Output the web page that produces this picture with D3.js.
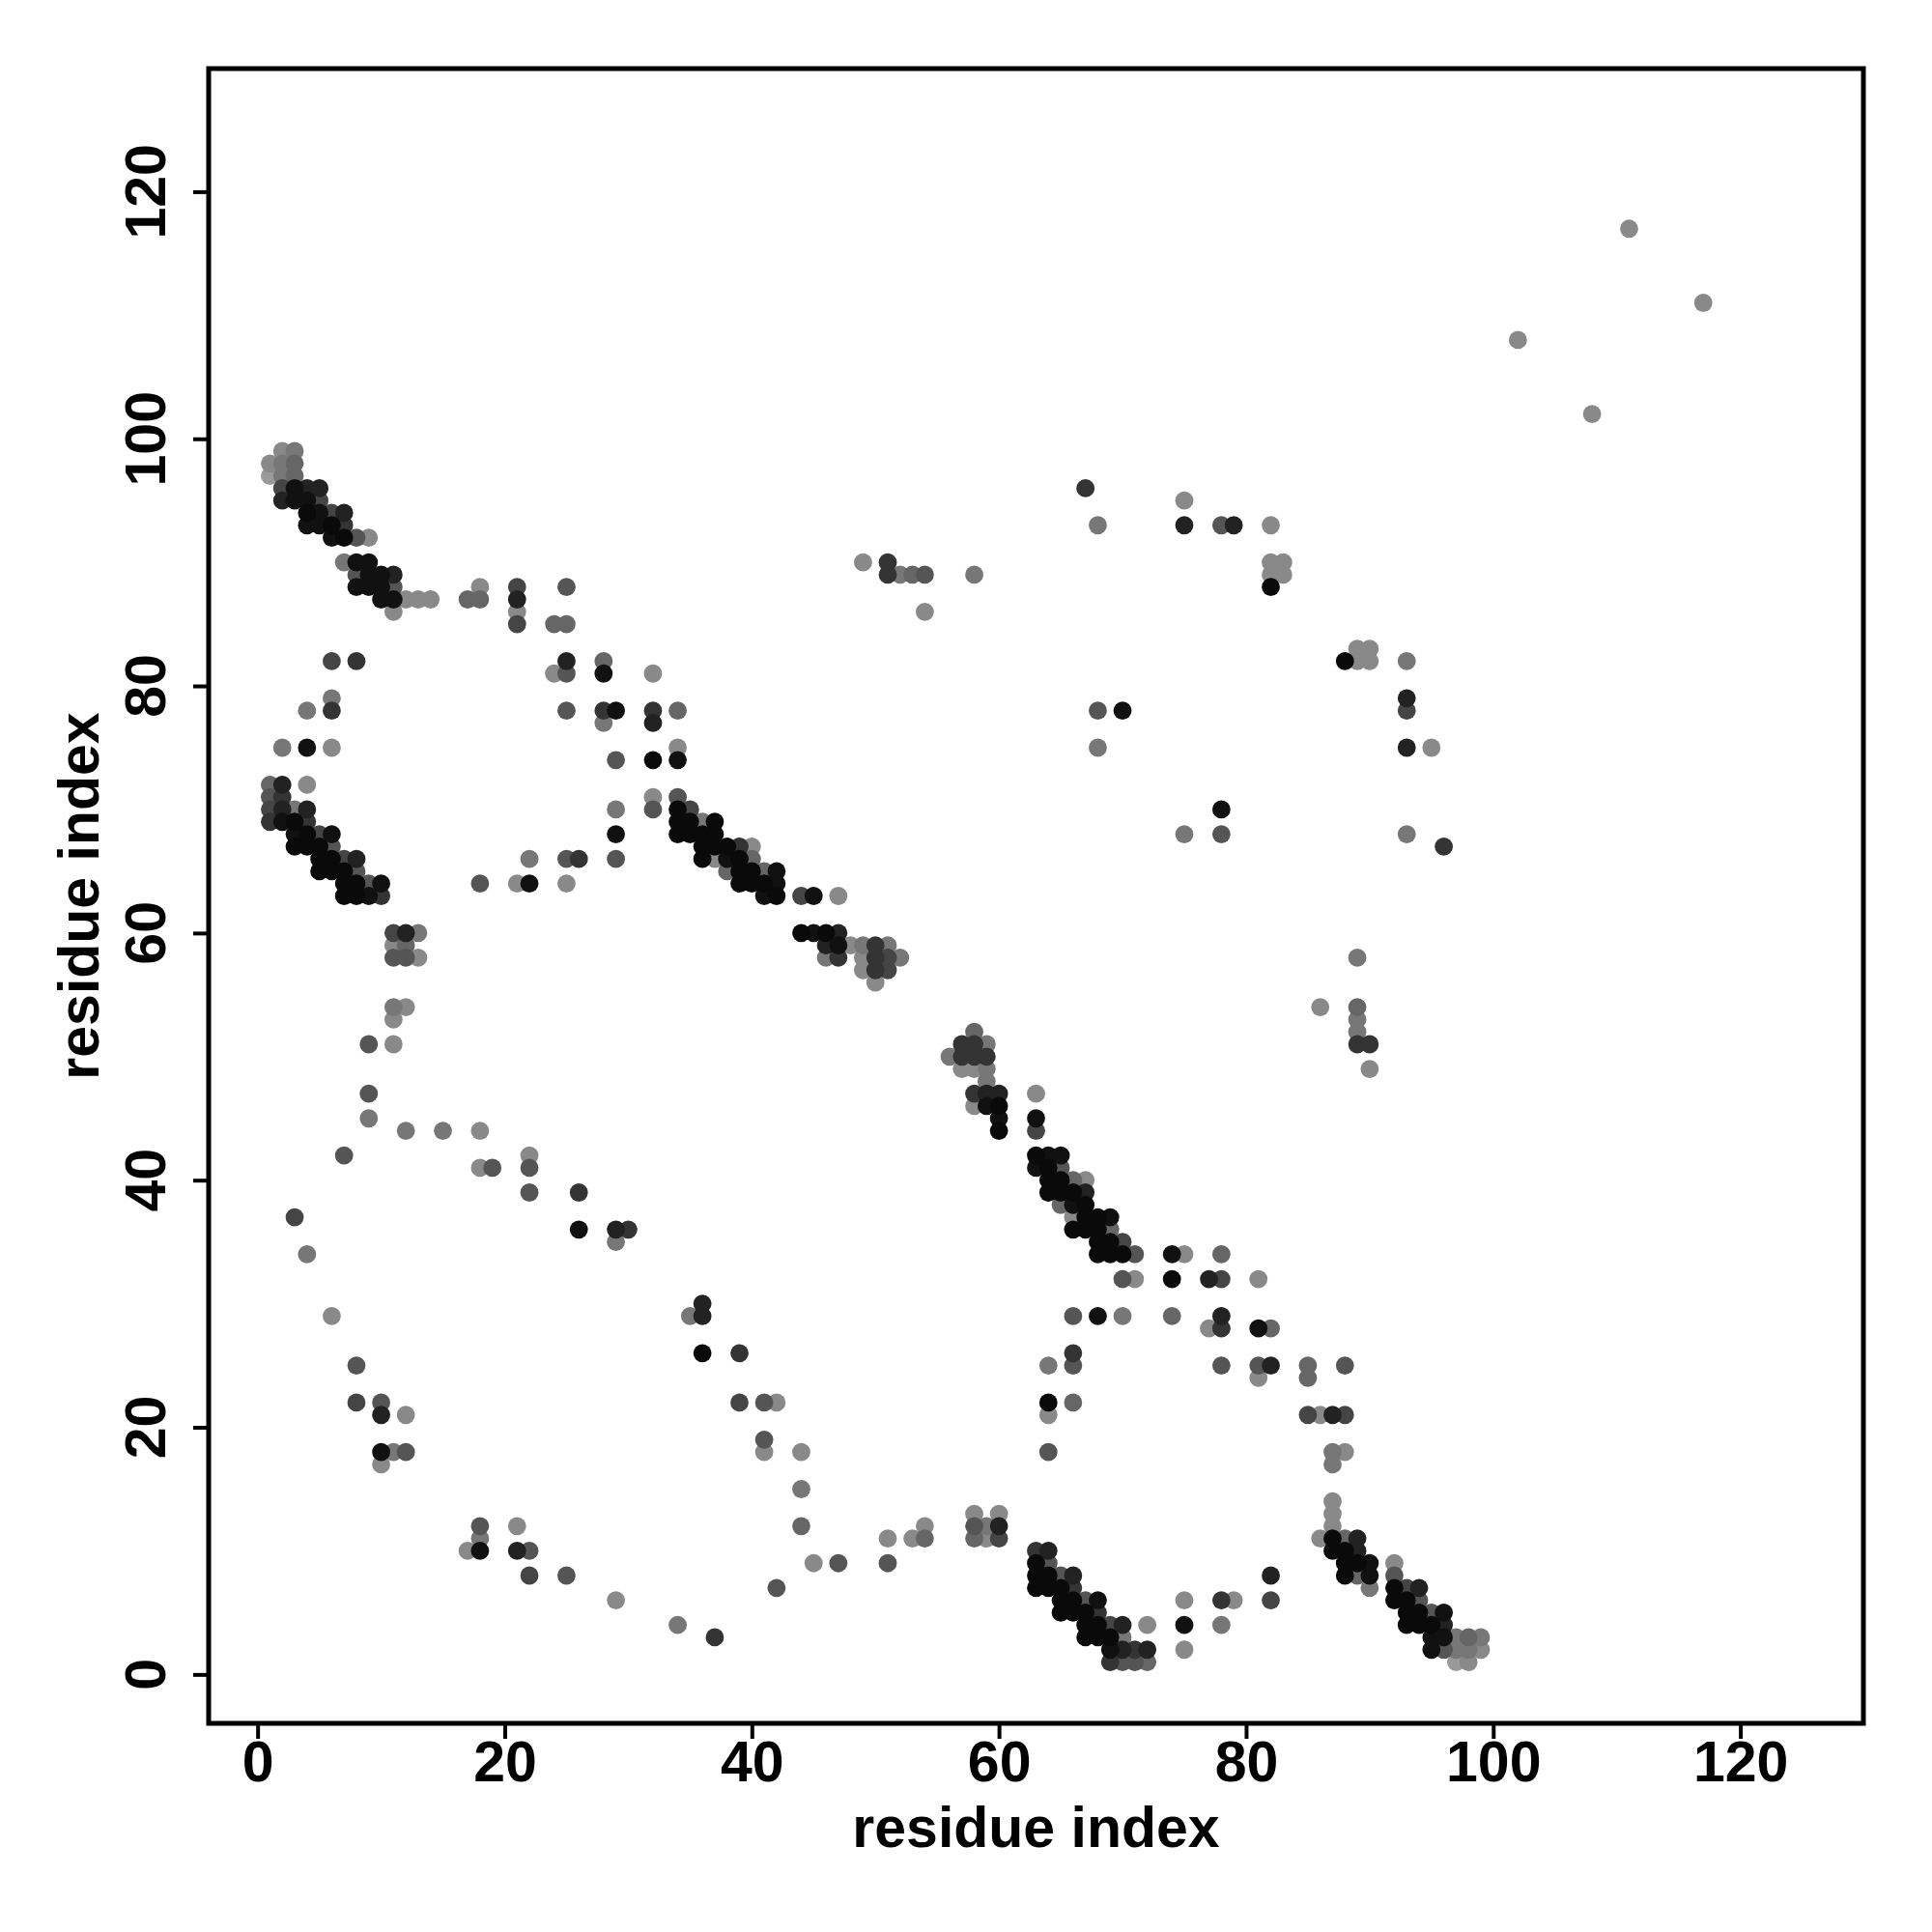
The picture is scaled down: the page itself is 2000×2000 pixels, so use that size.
<!DOCTYPE html>
<html>
<head>
<meta charset="utf-8">
<script src="https://cdn.jsdelivr.net/npm/d3@7"></script>
<style>
  html, body { margin: 0; padding: 0; background: #ffffff; }
  svg { display: block; }
</style>
</head>
<body>
<script>
// ---- DATA: contacts as [residue i, residue j, score] (score 0..1; higher = darker) ----
const bandTopLeft = [
  [2,99,.12],[3,99,.24],
  [1,98,.12],[2,98,.24],[3,98,.36],
  [1,97,0],[2,97,.24],[3,97,.36],
  [2,96,.59],[3,96,.95],[4,96,.83],[5,96,.83],
  [2,95,.83],[3,95,.95],[4,95,.95],[5,95,.59],
  [4,94,1],[5,94,.95],[6,94,.59],[7,94,.83],
  [4,93,.95],[5,93,.95],[6,93,1],[7,93,.71],
  [6,92,.95],[7,92,1],[8,92,.48],[9,92,.12],
  [7,90,.24],[8,90,.95],[9,90,.95],
  [8,89,.48],[9,89,.95],[10,89,.95],[11,89,.83],
  [8,88,.95],[9,88,.95],[10,88,.95],[11,88,.48],
  [10,87,.95],[11,87,.95],[12,87,.12],[13,87,.12],[14,87,.12],
  [11,86,.12]
];
const strandTop = [
  [17,87,.36],[18,87,.36],[18,88,.12],
  [21,88,.59],[21,87,.83],[21,86,.12],[21,85,.59],
  [25,88,.48],[24,85,.36],[25,85,.36],
  [6,82,.59],[8,82,.71],[25,82,.83],[24,81,.12],[25,81,.48],
  [6,79,.24],[4,78,.24],[6,78,.71],[25,78,.48],
  [2,75,.24],[4,75,.95],[6,75,.12],
  [28,82,.36],[28,81,.95],[32,81,.12],
  [28,78,.71],[29,78,.95],[32,78,.71],[34,78,.36],
  [28,77,.24],[32,77,.83],
  [34,75,.12],[29,74,.48],[32,74,1],[34,74,.95]
];
const sparseUpperRight = [
  [49,90,.12],[51,90,.71],[51,89,.71],[52,89,.24],[53,89,.36],[54,89,.48],[58,89,.24],[54,86,.12],
  [67,96,.71],[75,95,.12],[68,93,.24],[75,93,.83],[78,93,.48],[79,93,.83],[82,93,.12],
  [82,90,.12],[83,90,.12],[82,89,.12],[83,89,.12],[82,88,1],
  [88,82,1],[89,83,.12],[90,83,.12],[89,82,.12],[90,82,.12],[93,82,.24],
  [93,79,.83],[93,78,.59],[93,75,.83],[95,75,.12],
  [68,78,.48],[70,78,.95],[68,75,.24],
  [78,70,.95],[75,68,.24],[78,68,.48],[93,68,.24],[96,67,.71],
  [89,58,.24],[86,54,.12],[89,54,.36],[89,53,.24],[89,52,.24],[89,51,.71],[90,51,.71],[90,49,.12],
  [102,108,.12],[108,102,.12],[111,117,.12],[117,111,.12]
];
const bandLeft = [
  [1,72,.36],[2,72,.83],[4,72,.12],
  [1,71,.48],[2,71,.71],
  [1,70,.59],[2,70,.83],[3,70,.24],[4,70,.83],
  [1,69,.71],[2,69,.95],[3,69,1],[4,69,.71],
  [3,68,.95],[4,68,1],[5,68,.59],[6,68,.95],
  [3,67,1],[4,67,1],[5,67,1],[6,67,.48],
  [5,66,1],[6,66,1],[7,66,.59],[8,66,.83],
  [5,65,1],[6,65,1],[7,65,1],[8,65,.48],
  [7,64,1],[8,64,1],[9,64,.48],[10,64,.95],
  [7,63,1],[8,63,1],[9,63,.95],[10,63,.71],
  [11,60,.59],[12,60,.83],[13,60,.24],
  [11,59,.12],[12,59,.36],
  [11,58,.48],[12,58,.48],[13,58,.12],
  [11,54,.24],[12,54,.12],[11,53,.12],
  [9,51,.48],[11,51,.12],
  [22,66,.24],[25,66,.48],[26,66,.71],
  [18,64,.48],[21,64,.12],[22,64,.95],[25,64,.12]
];
const bandCentral = [
  [32,71,.12],[34,71,.48],
  [29,70,.24],[32,70,.48],[34,70,1],[35,70,.59],
  [34,69,1],[35,69,1],[36,69,.24],[37,69,1],
  [29,68,.95],[34,68,1],[35,68,1],[36,68,1],[37,68,1],
  [36,67,1],[37,67,1],[38,67,1],[39,67,.71],[40,67,.12],
  [29,66,.48],[36,66,1],[37,66,.12],[38,66,.95],[39,66,1],[40,66,.36],
  [38,65,.36],[39,65,1],[40,65,1],[41,65,.36],[42,65,.95],
  [39,64,1],[40,64,1],[41,64,1],[42,64,.95],
  [41,63,.95],[42,63,1],[44,63,.59],[45,63,.95],[47,63,.12],
  [44,60,1],[45,60,.95],[46,60,1],[47,60,.83],
  [46,59,.83],[47,59,.95],[48,59,.12],[49,59,.24],[50,59,.71],[51,59,.24],
  [46,58,.24],[47,58,.71],[49,58,.12],[50,58,.71],[51,58,.59],[52,58,.24],
  [49,57,.12],[50,57,.71],[51,57,.59],
  [50,56,.12]
];
const bandDiagonal = [
  [58,52,.36],[57,51,.71],[58,51,.71],[59,51,.24],
  [56,50,.24],[57,50,.71],[58,50,.71],[59,50,.71],
  [57,49,.12],[58,49,.12],[59,49,.24],[59,48,.24],
  [58,47,.71],[59,47,.83],[60,47,.83],[63,47,.12],
  [58,46,.12],[59,46,.95],[60,46,1],
  [60,45,.95],[63,45,.95],[60,44,1],[63,44,.59],
  [63,42,1],[64,42,.95],[65,42,.95],
  [63,41,.95],[64,41,1],[65,41,.48],
  [64,40,1],[65,40,1],[66,40,.36],[67,40,.12],
  [64,39,1],[65,39,1],[66,39,1],[67,39,.83],
  [65,38,.36],[66,38,.95],[67,38,1],
  [66,37,.12],[67,37,1],[68,37,1],[69,37,.95],
  [66,36,1],[67,36,1],[68,36,1],[69,36,.36],
  [68,35,1],[69,35,1],[70,35,.59],
  [68,34,1],[69,34,1],[70,34,1],[71,34,.48],[74,34,.95],[75,34,.12],
  [70,32,.48],[71,32,.12],[74,32,1],
  [66,29,.48],[68,29,.95],[70,29,.24],[74,29,.36],
  [66,26,.71],[64,25,.24],[66,25,.48]
];
const bandBottomRight = [
  [78,34,.36],[77,32,.83],[78,32,.59],[81,32,.12],
  [78,29,.83],[77,28,.12],[78,28,.71],[81,28,.95],[82,28,.36],
  [78,25,.48],[81,25,.48],[82,25,.83],[85,25,.36],[88,25,.48],
  [81,24,.12],[85,24,.36],
  [85,21,.59],[86,21,.12],[87,21,.83],[88,21,.59],
  [87,18,.24],[88,18,.12],[87,17,.24],
  [87,14,.12],[87,13,.12],[87,12,.12],
  [86,11,.12],[87,11,1],[88,11,.36],[89,11,.83],
  [87,10,1],[88,10,1],[89,10,.83],
  [88,9,1],[89,9,1],[90,9,.95],[92,9,.12],
  [88,8,1],[89,8,.36],[90,8,.95],[92,8,.48],[82,8,.83],
  [90,7,.24],[92,7,1],[93,7,.59],[94,7,.83],
  [78,6,.71],[79,6,.12],[82,6,.59],[92,6,1],[93,6,1],[94,6,.48],
  [93,5,1],[94,5,1],[95,5,.48],[96,5,.95],
  [78,4,.24],[93,4,1],[94,4,1],[95,4,1],[96,4,.83],
  [95,3,.95],[96,3,.95],[97,3,.24],[98,3,.36],[99,3,.24],
  [95,2,.95],[96,2,.48],[97,2,.24],[98,2,.24],[99,2,.12],
  [97,1,0],[98,1,.12]
];
const sparseLowerLeft = [
  [9,47,.48],[9,45,.24],[12,44,.24],[15,44,.24],[18,44,.12],[7,42,.48],
  [18,41,.12],[19,41,.48],[22,42,.12],[22,41,.48],[22,39,.48],[26,39,.71],
  [3,37,.59],[26,36,.95],[29,36,.83],[30,36,.71],[29,35,.24],[4,34,.24],[6,29,.12],[8,25,.48],
  [36,30,.83],[36,29,.83],[35,29,.24],[36,26,1],[39,26,.71],
  [8,22,.59],[10,22,.48],[10,21,.83],[12,21,.12],
  [10,18,.95],[11,18,.24],[12,18,.48],[10,17,.12],
  [18,12,.48],[21,12,.12],[18,11,.24],[17,10,.12],[18,10,.95],[21,10,.83],[22,10,.48],
  [22,8,.59],[25,8,.48],
  [39,22,.59],[41,22,.48],[42,22,.12],[41,19,.48],[41,18,.12],[44,18,.12],[44,15,.24],[44,12,.36],
  [45,9,.12],[47,9,.48],[51,11,.12],[51,9,.48],[42,7,.48],[29,6,.12],[34,4,.24],[37,3,.71]
];
const bandBottom = [
  [64,22,1],[66,22,.36],[64,21,.12],[64,18,.48],
  [58,13,.12],[60,13,.12],[54,12,.12],[58,12,.48],[59,12,.24],[60,12,.83],
  [53,11,.12],[54,11,.36],[58,11,.36],[59,11,.12],[60,11,.59],
  [63,10,.71],[64,10,.83],[63,9,1],[64,9,.48],
  [63,8,1],[64,8,1],[65,8,.48],[66,8,.83],
  [63,7,1],[64,7,1],[65,7,1],[66,7,.71],
  [65,6,1],[66,6,1],[67,6,.48],[68,6,.95],
  [65,5,1],[66,5,1],[67,5,1],[68,5,.71],
  [67,4,1],[68,4,1],[69,4,.59],[70,4,.83],[72,4,.12],[75,4,.95],
  [67,3,1],[68,3,1],[69,3,1],[70,3,.24],
  [69,2,.95],[70,2,.83],[71,2,.71],[72,2,.83],[75,2,.12],
  [69,1,.71],[70,1,.48],[71,1,.48],[72,1,.36],
  [75,6,.12]
];
const axisRange = [1, 125];
const tickValues = [0, 20, 40, 60, 80, 100, 120];
const xTitle = "residue index";
const yTitle = "residue index";

// ---- CHART ----
const W = 2000, H = 2000;
const plot = { left: 216, right: 1929, top: 71, bottom: 1784 };
const pad = 0.04 * (axisRange[1] - axisRange[0]);
const domain = [axisRange[0] - pad, axisRange[1] + pad];

const x = d3.scaleLinear().domain(domain).range([plot.left, plot.right]);
const y = d3.scaleLinear().domain(domain).range([plot.bottom, plot.top]);
const shade = d3.scaleLinear().domain([0, 1]).range(["#9a9a9a", "#0a0a0a"]);

const contacts = [].concat(bandTopLeft, strandTop, sparseUpperRight, bandLeft,
  bandCentral, bandDiagonal, bandBottomRight, sparseLowerLeft, bandBottom)
  .sort((a, b) => a[2] - b[2]);

const svg = d3.select("body").append("svg")
  .attr("width", W).attr("height", H)
  .attr("viewBox", `0 0 ${W} ${H}`);

svg.append("rect").attr("width", W).attr("height", H).attr("fill", "#fff");

const font = "'Liberation Sans', Arial, Helvetica, sans-serif";

// points
svg.append("g").selectAll("circle")
  .data(contacts)
  .join("circle")
  .attr("cx", d => x(d[0]))
  .attr("cy", d => y(d[1]))
  .attr("r", 9.4)
  .attr("fill", d => shade(d[2]));

// x axis ticks
const xAxis = svg.append("g")
  .attr("transform", `translate(0,${plot.bottom})`)
  .call(d3.axisBottom(x).tickValues(tickValues).tickSize(16).tickPadding(2).tickFormat(d3.format("d")));
xAxis.select(".domain").remove();
xAxis.selectAll(".tick line").attr("stroke", "#000").attr("stroke-width", 4);
xAxis.selectAll(".tick text")
  .attr("font-family", font).attr("font-weight", "bold").attr("font-size", 59)
  .attr("fill", "#000");

// y axis ticks
const yAxis = svg.append("g")
  .attr("transform", `translate(${plot.left},0)`)
  .call(d3.axisLeft(y).tickValues(tickValues).tickSize(16).tickFormat(""));
yAxis.select(".domain").remove();
yAxis.selectAll(".tick line").attr("stroke", "#000").attr("stroke-width", 4);
yAxis.selectAll(".tick text").remove();
svg.append("g").selectAll("text")
  .data(tickValues)
  .join("text")
  .attr("transform", d => `translate(171,${y(d)}) rotate(-90)`)
  .attr("text-anchor", "middle")
  .attr("font-family", font).attr("font-weight", "bold").attr("font-size", 59)
  .attr("fill", "#000")
  .text(d => d);

// frame
svg.append("rect")
  .attr("x", plot.left).attr("y", plot.top)
  .attr("width", plot.right - plot.left).attr("height", plot.bottom - plot.top)
  .attr("fill", "none").attr("stroke", "#000").attr("stroke-width", 5);

// titles
svg.append("text")
  .attr("x", (plot.left + plot.right) / 2).attr("y", 1912)
  .attr("text-anchor", "middle")
  .attr("font-family", font).attr("font-weight", "bold").attr("font-size", 59)
  .text(xTitle);
svg.append("text")
  .attr("transform", `translate(102,${(plot.top + plot.bottom) / 2}) rotate(-90)`)
  .attr("text-anchor", "middle")
  .attr("font-family", font).attr("font-weight", "bold").attr("font-size", 59)
  .text(yTitle);
</script>
</body>
</html>
